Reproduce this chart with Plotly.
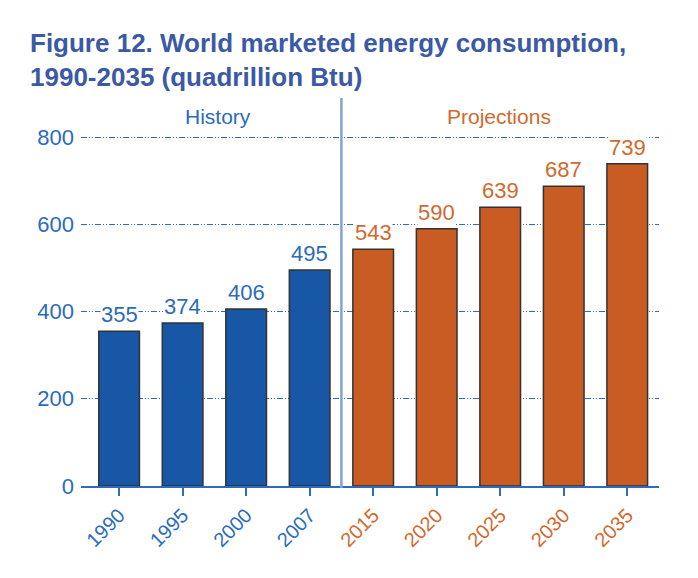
import plotly.graph_objects as go

years = ["1990", "1995", "2000", "2007", "2015", "2020", "2025", "2030", "2035"]
consumption = [355, 374, 406, 495, 543, 590, 639, 687, 739]
is_history = [True, True, True, True, False, False, False, False, False]
y_ticks = [0, 200, 400, 600, 800]

blue_bar = "#1757a6"
orange_bar = "#c85c23"
blue_txt = "#2c6bbd"
orange_txt = "#d2692e"

bar_colors = [blue_bar if h else orange_bar for h in is_history]
txt_colors = [blue_txt if h else orange_txt for h in is_history]
tick_text = ['<span style="color:%s">%s</span>' % (c, y) for y, c in zip(years, txt_colors)]

fig = go.Figure()
fig.add_trace(go.Bar(
    x=list(range(len(years))),
    y=consumption,
    width=0.64,
    marker=dict(color=bar_colors, line=dict(color="#333333", width=1.5)),
    hoverinfo="skip",
))

# value labels with white boxes (mask the gridlines like the original)
for i, v in enumerate(consumption):
    fig.add_annotation(x=i, y=v, text=str(v), showarrow=False, yanchor="bottom", yshift=3,
                       font=dict(size=22, color=txt_colors[i], family="Liberation Sans"),
                       bgcolor="white", borderpad=0)

fig.add_annotation(x=1.56, y=1, yref="paper", text="History", showarrow=False, yanchor="top", yshift=-3,
                   font=dict(size=21, color=blue_txt, family="Liberation Sans"))
fig.add_annotation(x=5.98, y=1, yref="paper", text="Projections", showarrow=False, yanchor="top", yshift=-3,
                   font=dict(size=21, color=orange_txt, family="Liberation Sans"))

# history / projections divider
fig.add_shape(type="line", x0=3.5, x1=3.5, y0=-0.005, y1=1.005, yref="paper",
              line=dict(color="#85a3d2", width=2.5))

# page body has an 8px margin, so offsets below are shifted by it
fig.update_layout(
    width=698, height=578,
    margin=dict(l=73, r=47, t=92, b=100),
    paper_bgcolor="white", plot_bgcolor="white",
    showlegend=False,
    title=dict(
        text="<b>Figure 12. World marketed energy consumption,<br>1990-2035 (quadrillion Btu)</b>",
        x=22 / 698, xanchor="left", xref="container",
        y=1 - 44 / 578, yanchor="top", yref="container",
        pad=dict(l=0, t=0),
        font=dict(size=26, color="#3b59a6", family="Liberation Sans"),
    ),
    xaxis=dict(
        range=[-0.6, 8.5], automargin=False,
        tickmode="array", tickvals=list(range(len(years))), ticktext=tick_text,
        tickangle=-45, tickfont=dict(size=20, family="Liberation Sans"),
        ticks="outside", ticklen=8, tickcolor=blue_txt, tickwidth=1.5,
        showline=True, linecolor=blue_txt, linewidth=1.5,
        showgrid=False, zeroline=False, fixedrange=True,
    ),
    yaxis=dict(
        range=[0, 885], automargin=False,
        tickmode="array", tickvals=y_ticks, ticklabelstandoff=6,
        tickfont=dict(size=22, color=blue_txt, family="Liberation Sans"),
        showgrid=True, gridcolor=blue_txt, gridwidth=1,
        griddash="6px,2px,1px,2px,1px,2px",
        zeroline=False, showline=False, ticks="", fixedrange=True,
    ),
)

fig.write_html("out.html")
